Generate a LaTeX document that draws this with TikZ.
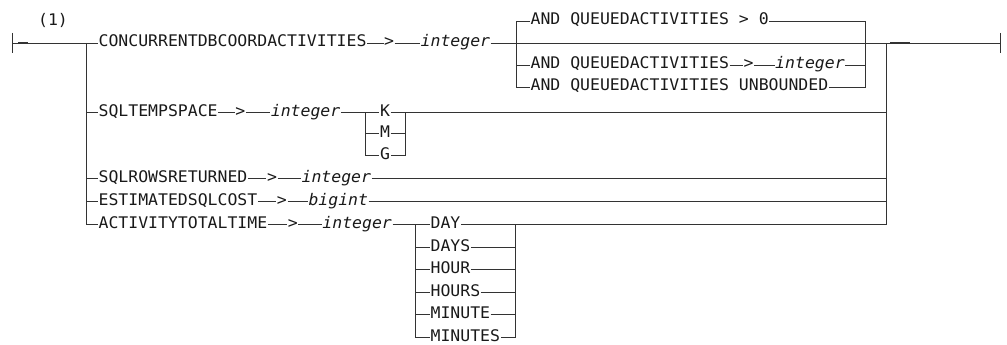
\documentclass[tikz,border=0pt]{standalone}
\usepackage{fontspec}
\newfontfamily\diafont[FakeStretch=1.03]{DejaVu Sans Mono}
\usetikzlibrary{calc}
\tikzset{
  kw/.style={anchor=base west, inner xsep=0.6pt, inner ysep=0pt, outer sep=0pt,
             font=\diafont\fontsize{16}{19}\selectfont, text=black!90},
  var/.style={kw, font=\diafont\fontsize{16}{19}\selectfont\itshape},
  op/.style={kw, anchor=base},
  ch/.style={kw, anchor=base},
  rail/.style={line width=0.9pt, draw=black!80},
  bar/.style={line width=1pt, draw=black!80},
  heavy/.style={line width=1.4pt, draw=black!80},
}
\begin{document}
\begin{tikzpicture}[x=1pt,y=-1pt]
\useasboundingbox (0,0) rectangle (1007,345);
% junction coordinates
\coordinate (S) at (12,43);
\coordinate (E) at (1000,43);
\coordinate (L1) at (86,43);
\coordinate (L2) at (86,112);
\coordinate (L3) at (86,178);
\coordinate (L4) at (86,201);
\coordinate (L5) at (86,224);
\coordinate (R1) at (886,43);
\coordinate (R2) at (886,112);
\coordinate (R3) at (886,178);
\coordinate (R4) at (886,201);
\coordinate (R5) at (886,224);
\coordinate (A1) at (516,21);
\coordinate (A2) at (516,65);
\coordinate (A3) at (516,87);
\coordinate (B1) at (865,21);
\coordinate (B2) at (865,65);
\coordinate (B3) at (865,87);
\coordinate (K1) at (365,112);
\coordinate (K2) at (365,133);
\coordinate (K3) at (365,155);
\coordinate (KR1) at (405,112);
\coordinate (KR2) at (405,133);
\coordinate (KR3) at (405,155);
\coordinate (D1) at (415,224);
\coordinate (D2) at (415,247);
\coordinate (D3) at (415,269);
\coordinate (D4) at (415,292);
\coordinate (D5) at (415,314);
\coordinate (D6) at (415,337);
\coordinate (DR1) at (515,224);
\coordinate (DR2) at (515,247);
\coordinate (DR3) at (515,269);
\coordinate (DR4) at (515,292);
\coordinate (DR5) at (515,314);
\coordinate (DR6) at (515,337);

% texts
\node[ch] (note) at (53,26) {(1)};
\node[kw] (conc) at (98,47) {CONCURRENTDBCOORDACTIVITIES};
\node[op] (gt1) at ($(conc.base east)+(22,0)$) {>};
\node[var] (int1) at ($(conc.base east)+(53,0)$) {integer};

\node[kw] (a1) at (530,25) {AND QUEUEDACTIVITIES > 0};
\node[kw] (a2) at (530,69) {AND QUEUEDACTIVITIES};
\node[op] (gta) at ($(a2.base east)+(19,0)$) {>};
\node[var] (inta) at ($(a2.base east)+(45,0)$) {integer};
\node[kw] (a3) at (530,91) {AND QUEUEDACTIVITIES UNBOUNDED};

\node[kw] (sqlt) at (98,116) {SQLTEMPSPACE};
\node[op] (gt2) at ($(sqlt.base east)+(22,0)$) {>};
\node[var] (int2) at ($(sqlt.base east)+(52,0)$) {integer};
\node[ch] (kK) at (385,116) {K};
\node[ch] (kM) at (385,137) {M};
\node[ch] (kG) at (385,159) {G};

\node[kw] (rows) at (98,182) {SQLROWSRETURNED};
\node[op] (gt3) at ($(rows.base east)+(24,0)$) {>};
\node[var] (int3) at ($(rows.base east)+(53,0)$) {integer};

\node[kw] (est) at (98,205) {ESTIMATEDSQLCOST};
\node[op] (gt4) at ($(est.base east)+(24,0)$) {>};
\node[var] (big) at ($(est.base east)+(50,0)$) {bigint};

\node[kw] (act) at (98,228) {ACTIVITYTOTALTIME};
\node[op] (gt5) at ($(act.base east)+(25,0)$) {>};
\node[var] (int5) at ($(act.base east)+(54,0)$) {integer};

\node[kw] (day) at (430,228) {DAY};
\node[kw] (days) at (430,251) {DAYS};
\node[kw] (hour) at (430,273) {HOUR};
\node[kw] (hours) at (430,296) {HOURS};
\node[kw] (minute) at (430,318) {MINUTE};
\node[kw] (minutes) at (430,341) {MINUTES};

% start / end bars
\draw[bar] (S) ++(0,-10) -- ++(0,20);
\draw[bar] (E) ++(0,-10) -- ++(0,20);
\draw[heavy] ($(S)+(6,0)$) -- ($(S)+(16,0)$);
\draw[heavy] ($(R1)+(4,0)$) -- ($(R1)+(24,0)$);

% main row
\draw[rail] (S) -- (conc.west |- S);
\draw[rail] (conc.east |- S) -- (gt1.west |- S);
\draw[rail] (gt1.east |- S) -- (int1.west |- S);
\draw[rail] (int1.east |- S) -- (E);

% left and right verticals
\draw[rail] (L1) -- (L5) -- (act.west |- L5);
\draw[rail] (L2) -- (sqlt.west |- L2);
\draw[rail] (L3) -- (rows.west |- L3);
\draw[rail] (L4) -- (est.west |- L4);
\draw[rail] (R1) -- (R5) -- (day.east |- R5);

% group A
\draw[rail] (a1.west |- A1) -- (A1) -- (A3) -- (a3.west |- A3);
\draw[rail] (A2) -- (a2.west |- A2);
\draw[rail] (a1.east |- B1) -- (B1) -- (B3) -- (a3.east |- B3);
\draw[rail] (a2.east |- A2) -- (gta.west |- A2);
\draw[rail] (gta.east |- A2) -- (inta.west |- A2);
\draw[rail] (inta.east |- A2) -- (B2);

% row 2 and K/M/G
\draw[rail] (sqlt.east |- L2) -- (gt2.west |- L2);
\draw[rail] (gt2.east |- L2) -- (int2.west |- L2);
\draw[rail] (int2.east |- L2) -- (kK.west |- L2);
\draw[rail] (kK.east |- L2) -- (R2);
\draw[rail] (K1) -- (K3) -- (kG.west |- K3);
\draw[rail] (K2) -- (kM.west |- K2);
\draw[rail] (KR1) -- (KR3) -- (kG.east |- KR3);
\draw[rail] (kM.east |- KR2) -- (KR2);

% row 3
\draw[rail] (rows.east |- L3) -- (gt3.west |- L3);
\draw[rail] (gt3.east |- L3) -- (int3.west |- L3);
\draw[rail] (int3.east |- L3) -- (R3);

% row 4
\draw[rail] (est.east |- L4) -- (gt4.west |- L4);
\draw[rail] (gt4.east |- L4) -- (big.west |- L4);
\draw[rail] (big.east |- L4) -- (R4);

% row 5 and time units
\draw[rail] (act.east |- L5) -- (gt5.west |- L5);
\draw[rail] (gt5.east |- L5) -- (int5.west |- L5);
\draw[rail] (int5.east |- L5) -- (day.west |- L5);
\draw[rail] (D1) -- (D6) -- (minutes.west |- D6);
\draw[rail] (D2) -- (days.west |- D2);
\draw[rail] (D3) -- (hour.west |- D3);
\draw[rail] (D4) -- (hours.west |- D4);
\draw[rail] (D5) -- (minute.west |- D5);
\draw[rail] (DR1) -- (DR6) -- (minutes.east |- DR6);
\draw[rail] (days.east |- DR2) -- (DR2);
\draw[rail] (hour.east |- DR3) -- (DR3);
\draw[rail] (hours.east |- DR4) -- (DR4);
\draw[rail] (minute.east |- DR5) -- (DR5);
\end{tikzpicture}
\end{document}
